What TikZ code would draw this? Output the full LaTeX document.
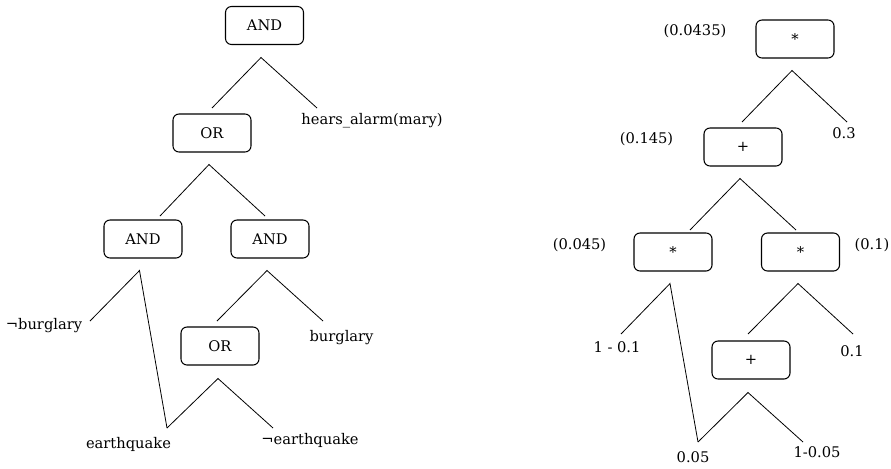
\documentclass[tikz,border=0pt]{standalone}
\usepackage{fontspec}
\setmainfont{DejaVu Serif}
\usetikzlibrary{calc}
\tikzset{
opbox/.style = {draw, line width=0.8pt,
        rounded corners=4.5pt,
        minimum width=58.5pt, minimum height=28.5pt,
        inner sep=0pt,
        font=\fontsize{11}{13}\selectfont
            },
leaf/.style = {inner sep=0pt,
        font=\fontsize{11}{13}\selectfont
            },
branch/.style = {line width=0.6pt, black}
        }

\begin{document}
\begin{tikzpicture}[x=0.75pt, y=-0.75pt]

\useasboundingbox (0,0) rectangle (891,468);

%%% Left tree: operator boxes

\node[opbox] (AND1) at (264.5,25.5) {AND};
\node[opbox] (OR1)  at (212,133)    {OR};
\node[opbox] (AND2) at (143,239)    {AND};
\node[opbox] (AND3) at (270,239)    {AND};
\node[opbox] (OR2)  at (220,346)    {OR};

%%% Left tree: leaves

\node[leaf] (mary)   at (372,121)   {hears\_alarm(mary)};
\node[leaf] (nburg)  at (44,326)    {¬burglary};
\node[leaf] (burg)   at (341.5,338) {burglary};
\node[leaf] (earth)  at (128.5,444) {earthquake};
\node[leaf] (nearth) at (310,440)   {¬earthquake};

%%% Right tree: operator boxes and values

\node[opbox] (M1) at (795,39)    {*};
\node[opbox] (P1) at (743,147)   {+};
\node[opbox] (M2) at (673,252)   {*};
\node[opbox] (M3) at (800.5,252) {*};
\node[opbox] (P2) at (751,360)   {+};

\node[leaf] (V1) at (695,31)    {(0.0435)};
\node[leaf] (V2) at (646.5,139) {(0.145)};
\node[leaf] (V3) at (579.5,245) {(0.045)};
\node[leaf] (V4) at (872,245)   {(0.1)};

\node[leaf] (c03)   at (844,133) {0.3};
\node[leaf] (c09)   at (617,347) {1 - 0.1};
\node[leaf] (c01)   at (852,351) {0.1};
\node[leaf] (c005)  at (693,457) {0.05};
\node[leaf] (c095)  at (817,452) {1-0.05};

%%% Branch tops (just under each box)

\coordinate (TA1) at ($(AND1.south)+(-3.5,12.5)$);
\coordinate (TO1) at ($(OR1.south)+(-3,12)$);
\coordinate (TA2) at ($(AND2.south)+(-3.5,12)$);
\coordinate (TA3) at ($(AND3.south)+(-3,12)$);
\coordinate (TO2) at ($(OR2.south)+(-2,13)$);

\coordinate (TM1) at ($(M1.south)+(-3,12)$);
\coordinate (TP1) at ($(P1.south)+(-3,12)$);
\coordinate (TM2) at ($(M2.south)+(-3,12)$);
\coordinate (TM3) at ($(M3.south)+(-2.5,12)$);
\coordinate (TP2) at ($(P2.south)+(-3,13)$);

%%% Branch ends

\coordinate (EA1l) at (212,108);
\coordinate (EA1r) at (317,108);
\coordinate (EO1l) at (160,216);
\coordinate (EO1r) at (265,216);
\coordinate (EA2l) at (90,321);
\coordinate (Eeq)  at (167,428);
\coordinate (EA3l) at (217,321);
\coordinate (EA3r) at (323,321);
\coordinate (EO2r) at (273,428);

\coordinate (EM1l) at (742,122);
\coordinate (EM1r) at (847,122);
\coordinate (EP1l) at (690,230);
\coordinate (EP1r) at (796,230);
\coordinate (EM2l) at (621,334);
\coordinate (E005) at (698,442);
\coordinate (EM3l) at (748,334);
\coordinate (EM3r) at (853,334);
\coordinate (EP2r) at (803,442);

%%% Left tree branches

\draw[branch] (EA1l) -- (TA1) -- (EA1r);
\draw[branch] (EO1l) -- (TO1) -- (EO1r);
\draw[branch] (EA2l) -- (TA2) -- (Eeq);
\draw[branch] (EA3l) -- (TA3) -- (EA3r);
\draw[branch] (Eeq) -- (TO2) -- (EO2r);

%%% Right tree branches

\draw[branch] (EM1l) -- (TM1) -- (EM1r);
\draw[branch] (EP1l) -- (TP1) -- (EP1r);
\draw[branch] (EM2l) -- (TM2) -- (E005);
\draw[branch] (EM3l) -- (TM3) -- (EM3r);
\draw[branch] (E005) -- (TP2) -- (EP2r);

\end{tikzpicture}
\end{document}
